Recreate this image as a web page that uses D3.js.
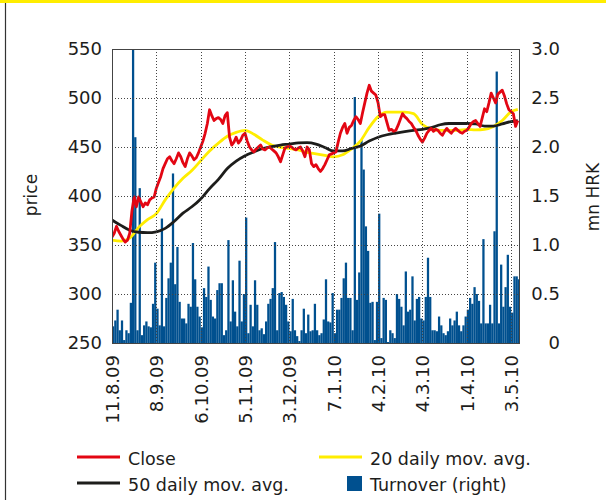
<!DOCTYPE html>
<html>
<head>
<meta charset="utf-8">
<script src="https://cdn.jsdelivr.net/npm/d3@7"></script>
<style>
  body { margin: 0; background: #fff; }
  svg text { font-family: "DejaVu Sans", sans-serif; fill: #1d1d1b; }
</style>
</head>
<body>
<div id="chart"></div>
<script>
var svgWidth = 606;
var svgHeight = 500;

// x tick labels, one every 20 trading days
var tickLabels = ["11.8.09", "8.9.09", "6.10.09", "5.11.09", "3.12.09", "7.1.10", "4.2.10", "4.3.10", "1.4.10", "3.5.10"];
var tickDays = [0, 20, 40, 60, 80, 100, 120, 140, 160, 180];
var priceTicks = [250, 300, 350, 400, 450, 500, 550];
var turnTicks = ["0", "0.5", "1.0", "1.5", "2.0", "2.5", "3.0"];

// daily close
var close = [
  358, 362, 369, 364, 360, 356, 353, 355, 362, 385,
  399, 389, 399, 394, 389, 393, 391, 396, 398, 399,
  408, 414, 420, 428, 433, 438, 440, 436, 433, 438,
  444, 440, 434, 430, 438, 444, 441, 437, 439, 444,
  450, 456, 464, 474, 488, 482, 477, 479, 480, 478,
  474, 482, 485, 460, 452, 455, 460, 454, 457, 462,
  464, 456, 450, 447, 445, 448, 450, 452, 448, 447,
  449, 450, 448, 446, 444, 440, 435, 442, 449, 450,
  451, 450, 448, 447, 449, 450, 446, 440, 450, 447,
  433, 430, 432, 428, 425, 428, 432, 437, 442, 443,
  444, 445, 455, 464, 470, 474, 464, 470, 472, 477,
  481, 478, 474, 485, 495, 505, 513, 507, 505, 503,
  495, 481, 483, 483, 475, 467, 468, 466, 467, 472,
  478, 484, 481, 479, 476, 474, 470, 467, 462, 458,
  455, 459, 464, 467, 469, 466, 468, 467, 464, 462,
  466, 469, 466, 464, 467, 469, 467, 465, 464, 466,
  467, 470, 474, 476, 477, 474, 471, 480, 489, 486,
  495, 505, 500, 495, 504, 506, 508, 502, 494, 488,
  486, 484, 471, 477
];

// moving averages, read every 4 days
var maDays = [0, 4, 8, 12, 16, 20, 24, 28, 32, 36, 40, 44, 48, 52, 56, 60, 64, 68, 72, 76, 80, 84, 88, 92,
  96, 100, 104, 108, 112, 116, 120, 124, 128, 132, 136, 140, 144, 148, 152, 156, 160, 164, 168, 172, 176, 180, 183];
var ma20 = [355, 354, 357, 368, 376, 382, 396, 408, 418, 426, 436, 446, 454, 461, 465, 467, 463, 457, 452, 449.6,
  448.5, 447, 444.5, 443, 441.5, 440, 442, 448, 456, 470, 481, 485.5, 485.5, 485.5, 484, 473, 468.5, 467, 467, 467,
  468, 467.5, 468, 471, 477, 486, 488.5];
var ma50 = [375.5, 370, 365, 363, 362.6, 363.5, 367, 374, 382.5, 389, 397, 407.5, 417, 428, 435.5, 441, 445, 448.5,
  450.5, 452, 453, 454.2, 454.4, 453, 449.5, 446, 446, 448.5, 451, 456, 460, 462.5, 464.2, 465.7, 467, 468, 469.7,
  472.7, 474, 474, 474, 473.5, 471.4, 471.4, 473.5, 476, 476.8];

// daily turnover, mn HRK
var turnover = [
  0.17, 0.23, 0.34, 0.13, 0.23, 0.03, 0.13, 0.10, 0.41, 3.0,
  2.1, 0.13, 1.58, 0.08, 0.18, 0.22, 0.17, 0.16, 0.40, 0.82,
  0.35, 0.18, 1.27, 0.17, 0.46, 0.66, 0.82, 1.73, 0.6, 0.98,
  0.42, 0.25, 0.25, 0.2, 0.40, 0.37, 1.02, 0.65, 0.37, 0.27,
  0.16, 0.56, 0.47, 0.78, 0.44, 0.27, 0.25, 0.54, 0.61, 0.61,
  0.08, 0.13, 1.05, 0.22, 0.64, 0.32, 0.17, 0.84, 0.22, 0.5,
  1.28, 0.10, 0.39, 0.17, 0.64, 0.39, 0.13, 0.15, 0.09, 0.22,
  0.40, 0.45, 0.56, 1.03, 0.13, 0.51, 0.52, 0.47, 0.39, 0.22,
  0.12, 0.45, 0.13, 0.07, 0.02, 0.13, 0.35, 0.10, 0.29, 0.12,
  0.13, 0.40, 0.13, 0.08, 0.10, 0.24, 0.65, 0.22, 0.21, 0.51,
  0.10, 0.34, 0.34, 0.46, 0.66, 0.82, 0.46, 0.46, 0.13, 2.51,
  0.44, 0.72, 2.07, 1.77, 1.19, 0.94, 0.41, 0.42, 0.03, 0.42,
  1.32, 0.05, 0.46, 0.44, 0.01, 0.13, 0.10, 0.05, 0.50, 0.45,
  0.37, 0.18, 0.73, 0.32, 0.34, 0.68, 0.23, 0.45, 0.47, 0.25,
  0.23, 0.47, 0.87, 0.47, 0.13, 0.13, 0.12, 0.27, 0.18, 0.10,
  0.08, 0.12, 0.25, 0.18, 0.23, 0.32, 0.18, 0.12, 0.18, 0.27,
  0.34, 0.46, 0.40, 0.57, 0.50, 0.43, 0.20, 1.06, 0.20, 0.20,
  0.39, 0.20, 1.14, 2.77, 0.20, 0.80, 0.37, 0.57, 0.90, 0.37,
  0.31, 0.68, 0.68, 0.65
];

var margin = { top: 49, right: 86, bottom: 157, left: 112 };
var width = svgWidth - margin.left - margin.right;
var height = svgHeight - margin.top - margin.bottom;

var svg = d3.select("#chart")
    .append("svg")
    .attr("width", svgWidth)
    .attr("height", svgHeight);

// page decoration: yellow strip at top, frame line on the left
svg.append("rect")
    .attr("x", 0).attr("y", 0)
    .attr("width", svgWidth).attr("height", 3)
    .attr("fill", "#ffed00");
svg.append("line")
    .attr("x1", 5.5).attr("x2", 5.5)
    .attr("y1", 3).attr("y2", svgHeight)
    .attr("stroke", "#333").attr("stroke-width", 1.2);

var chart = svg.append("g")
    .attr("transform", `translate(${margin.left}, ${margin.top})`);

var xScale = d3.scaleLinear().domain([0, 184]).range([0, width]);
var yPrice = d3.scaleLinear().domain([250, 550]).range([height, 0]);
var yTurn = d3.scaleLinear().domain([0, 3]).range([height, 0]);

chart.append("clipPath").attr("id", "plot")
    .append("rect").attr("width", width).attr("height", height);

var plot = chart.append("g").attr("clip-path", "url(#plot)");

// turnover bars
var step = xScale(1) - xScale(0);
plot.selectAll("rect.bar")
    .data(turnover)
    .enter()
    .append("rect")
    .attr("class", "bar")
    .attr("x", (d, i) => xScale(i))
    .attr("y", d => yTurn(d))
    .attr("width", step + 0.05)
    .attr("height", d => height - yTurn(d))
    .attr("fill", "#00508f");

// dotted grid
chart.append("g")
    .selectAll("line")
    .data(priceTicks.slice(1, -1))
    .enter()
    .append("line")
    .attr("x1", 0).attr("x2", width)
    .attr("y1", d => Math.round(yPrice(d)) + 0.5)
    .attr("y2", d => Math.round(yPrice(d)) + 0.5)
    .attr("stroke", "#444").attr("stroke-dasharray", "1,2");
chart.append("g")
    .selectAll("line")
    .data(tickDays.slice(1))
    .enter()
    .append("line")
    .attr("x1", d => Math.round(xScale(d)) + 0.5)
    .attr("x2", d => Math.round(xScale(d)) + 0.5)
    .attr("y1", 0).attr("y2", height)
    .attr("stroke", "#444").attr("stroke-dasharray", "1,2");

// lines
var maLine = function (vals) {
    return d3.line()
        .x((d, i) => xScale(maDays[i]))
        .y(d => yPrice(d))
        .curve(d3.curveMonotoneX)(vals);
};
plot.append("path")
    .attr("d", maLine(ma20))
    .attr("fill", "none").attr("stroke", "#ffed00").attr("stroke-width", 2.8);
plot.append("path")
    .attr("d", maLine(ma50))
    .attr("fill", "none").attr("stroke", "#1d1d1b").attr("stroke-width", 2.8);
plot.append("path")
    .attr("d", d3.line().x((d, i) => xScale(i)).y(d => yPrice(d))(close))
    .attr("fill", "none").attr("stroke", "#e30613").attr("stroke-width", 2.8)
    .attr("stroke-linejoin", "round");

// frame
chart.append("rect")
    .attr("x", 0.5).attr("y", 0.5)
    .attr("width", width - 1).attr("height", height)
    .attr("fill", "none").attr("stroke", "#444").attr("stroke-width", 1);

// left axis labels
chart.append("g")
    .selectAll("text")
    .data(priceTicks)
    .enter()
    .append("text")
    .attr("x", -10)
    .attr("y", d => yPrice(d))
    .attr("dy", "0.36em")
    .attr("text-anchor", "end")
    .style("font-size", "18px")
    .text(d => d);

// right axis labels
chart.append("g")
    .selectAll("text")
    .data(turnTicks)
    .enter()
    .append("text")
    .attr("x", width + 40)
    .attr("y", d => yTurn(+d))
    .attr("dy", "0.36em")
    .attr("text-anchor", "end")
    .style("font-size", "18px")
    .text(d => d);

// x labels, rotated
chart.append("g")
    .selectAll("text")
    .data(tickDays)
    .enter()
    .append("text")
    .attr("transform", d => `translate(${xScale(d) + 7}, ${height + 12}) rotate(-90)`)
    .attr("text-anchor", "end")
    .style("font-size", "18px")
    .text((d, i) => tickLabels[i]);

// axis titles
svg.append("text")
    .attr("transform", "translate(37, 195) rotate(-90)")
    .attr("text-anchor", "middle")
    .style("font-size", "17px")
    .text("price");
svg.append("text")
    .attr("transform", "translate(599, 197) rotate(-90)")
    .attr("text-anchor", "middle")
    .style("font-size", "17px")
    .text("mn HRK");

// legend
var legend = svg.append("g");
var legendItems = [
    { name: "Close", color: "#e30613", x: 77, y: 457, type: "line" },
    { name: "20 daily mov. avg.", color: "#ffed00", x: 319, y: 457, type: "line" },
    { name: "50 daily mov. avg.", color: "#1d1d1b", x: 77, y: 483, type: "line" },
    { name: "Turnover (right)", color: "#00508f", x: 319, y: 483, type: "box" }
];
legendItems.forEach(function (d) {
    if (d.type === "line") {
        legend.append("line")
            .attr("x1", d.x).attr("x2", d.x + 43)
            .attr("y1", d.y).attr("y2", d.y)
            .attr("stroke", d.color).attr("stroke-width", 3);
    } else {
        legend.append("rect")
            .attr("x", d.x + 28).attr("y", d.y - 7)
            .attr("width", 15).attr("height", 15)
            .attr("fill", d.color);
    }
    legend.append("text")
        .attr("x", d.x + 51)
        .attr("y", d.y + 8)
        .style("font-size", "17.5px")
        .text(d.name);
});
</script>
</body>
</html>
